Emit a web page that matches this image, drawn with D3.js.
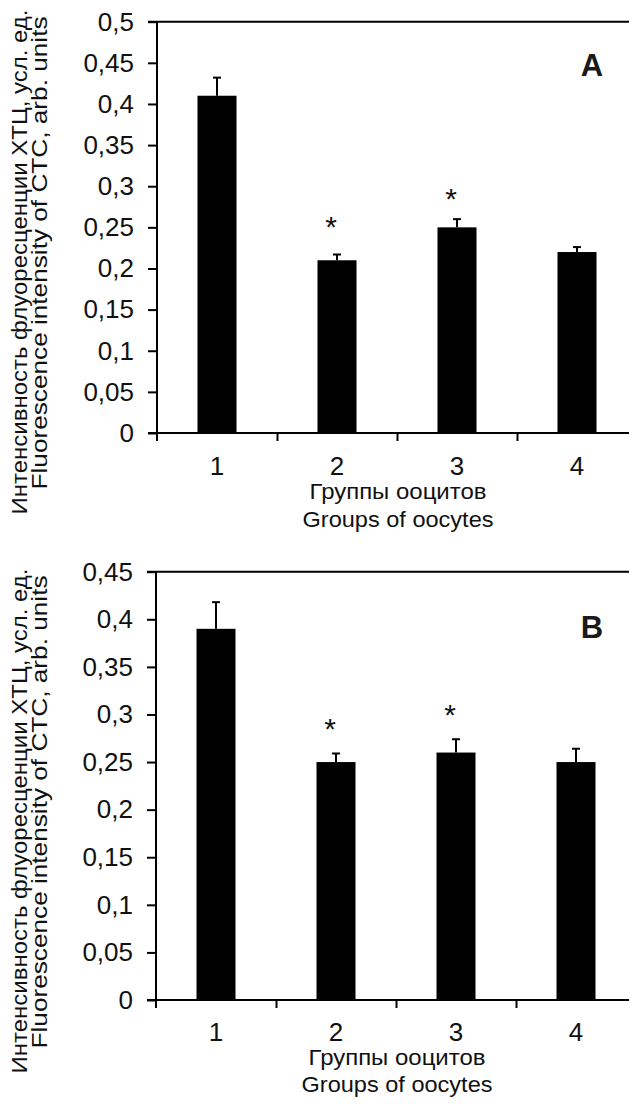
<!DOCTYPE html>
<html>
<head>
<meta charset="utf-8">
<script src="https://cdn.jsdelivr.net/npm/d3@7"></script>
<style>
  html, body { margin: 0; padding: 0; background: #fff; }
  svg { display: block; font-family: "Liberation Sans", Arial, sans-serif; }
</style>
</head>
<body>
<svg id="chart" width="629" height="1104"></svg>
<script>
// ---- data ----
const groups = ["1", "2", "3", "4"];

const meansA = [0.41, 0.21, 0.25, 0.22];
const errorsA = [0.022, 0.007, 0.010, 0.006];
const starGroupsA = ["2", "3"];
const starLevelsA = [0.259, 0.2935];
const yTicksA = [0, 0.05, 0.1, 0.15, 0.2, 0.25, 0.3, 0.35, 0.4, 0.45, 0.5];
const yTickLabelsA = ["0", "0,05", "0,1", "0,15", "0,2", "0,25", "0,3", "0,35", "0,4", "0,45", "0,5"];

const meansB = [0.39, 0.25, 0.26, 0.25];
const errorsB = [0.028, 0.009, 0.014, 0.014];
const starGroupsB = ["2", "3"];
const starLevelsB = [0.292, 0.3065];
const yTicksB = [0, 0.05, 0.1, 0.15, 0.2, 0.25, 0.3, 0.35, 0.4, 0.45];
const yTickLabelsB = ["0", "0,05", "0,1", "0,15", "0,2", "0,25", "0,3", "0,35", "0,4", "0,45"];

const yTitleRu = "Интенсивность флуоресценции ХТЦ, усл. ед.";
const yTitleEn = "Fluorescence intensity of CTC, arb. units";
const xTitleRu = "Группы ооцитов";
const xTitleEn = "Groups of oocytes";

// ---- drawing ----
const svg = d3.select("#chart");
const ink = "#111";
const FONT = "'Liberation Sans', Arial, sans-serif";

function panel(cfg) {
  const g = svg.append("g");
  const x = d3.scaleBand().domain(groups)
    .range([cfg.left, cfg.left + 480])
    .paddingInner(0.675).paddingOuter(0.3375);
  const y = d3.scaleLinear().domain([0, cfg.yMax]).range([cfg.bottom, cfg.top]);

  // bars
  g.selectAll("rect.bar").data(groups).join("rect")
    .attr("x", d => x(d)).attr("width", x.bandwidth())
    .attr("y", (d, i) => y(cfg.means[i]))
    .attr("height", (d, i) => y(0) - y(cfg.means[i]))
    .attr("fill", "#000");

  // error bars
  const eb = g.selectAll("g.err").data(groups).join("g");
  eb.append("line")
    .attr("x1", d => x(d) + x.bandwidth() / 2).attr("x2", d => x(d) + x.bandwidth() / 2)
    .attr("y1", (d, i) => y(cfg.means[i]))
    .attr("y2", (d, i) => y(cfg.means[i] + cfg.errors[i]))
    .attr("stroke", "#000").attr("stroke-width", 2);
  eb.append("line")
    .attr("x1", d => x(d) + x.bandwidth() / 2 - 4).attr("x2", d => x(d) + x.bandwidth() / 2 + 4)
    .attr("y1", (d, i) => y(cfg.means[i] + cfg.errors[i]))
    .attr("y2", (d, i) => y(cfg.means[i] + cfg.errors[i]))
    .attr("stroke", "#000").attr("stroke-width", 2);

  // stars (centred on the level value)
  g.selectAll("text.star").data(cfg.starGroups).join("text")
    .attr("x", d => x(d) + x.bandwidth() / 2 - 6)
    .attr("y", (d, i) => y(cfg.starLevels[i]) + 17)
    .attr("text-anchor", "middle")
    .attr("font-family", FONT)
    .attr("font-size", 30).attr("fill", ink)
    .text("*");

  // y axis
  const yAxis = d3.axisLeft(y).tickValues(cfg.yTicks)
    .tickFormat((d, i) => cfg.yTickLabels[i])
    .tickSize(9).tickPadding(14).tickSizeOuter(0);
  const ya = g.append("g").attr("transform", `translate(${cfg.left},0)`).call(yAxis)
    .attr("font-family", FONT).attr("font-size", 26);
  ya.select(".domain").remove();
  ya.selectAll(".tick line").attr("stroke", "#000").attr("stroke-width", 2);
  ya.selectAll(".tick text").attr("fill", ink);
  // vertical axis line (extends slightly below zero)
  g.append("line").attr("x1", cfg.left).attr("x2", cfg.left)
    .attr("y1", cfg.top).attr("y2", cfg.bottom + 8)
    .attr("stroke", "#000").attr("stroke-width", 2);

  // x axis: ticks at band boundaries
  const xb = d3.scaleLinear().domain([0, groups.length]).range([cfg.left, cfg.left + 480]);
  const xAxisB = d3.axisBottom(xb).tickValues([1, 2, 3]).tickSize(8).tickFormat("").tickSizeOuter(0);
  const xa = g.append("g").attr("transform", `translate(0,${cfg.bottom})`).call(xAxisB);
  xa.select(".domain").remove();
  xa.selectAll(".tick line").attr("stroke", "#000").attr("stroke-width", 2);
  g.append("line").attr("x1", cfg.left - 9).attr("x2", 629)
    .attr("y1", cfg.bottom).attr("y2", cfg.bottom)
    .attr("stroke", "#000").attr("stroke-width", 2);
  // top frame line
  g.append("line").attr("x1", cfg.left - 9).attr("x2", 629)
    .attr("y1", cfg.top).attr("y2", cfg.top)
    .attr("stroke", "#000").attr("stroke-width", 2);

  // x labels via band axis
  const xAxisL = d3.axisBottom(x).tickSize(0).tickPadding(0);
  const xl = g.append("g").attr("transform", `translate(0,${cfg.bottom})`).call(xAxisL)
    .attr("font-family", FONT).attr("font-size", 26);
  xl.select(".domain").remove();
  xl.selectAll(".tick text").attr("y", cfg.labelDy).attr("dy", 0).attr("fill", ink);

  // x title
  const cx = cfg.left + 241;
  g.append("text").attr("x", cx).attr("y", cfg.bottom + cfg.xt1)
    .attr("text-anchor", "middle").attr("font-family", FONT).attr("font-size", 22).attr("fill", ink)
    .attr("textLength", 177).attr("lengthAdjust", "spacingAndGlyphs")
    .text(xTitleRu);
  g.append("text").attr("x", cx).attr("y", cfg.bottom + cfg.xt2)
    .attr("text-anchor", "middle").attr("font-family", FONT).attr("font-size", 22).attr("fill", ink)
    .attr("textLength", 191).attr("lengthAdjust", "spacingAndGlyphs")
    .text(xTitleEn);

  // y title (two rotated lines)
  g.append("text").attr("transform", `translate(27,${cfg.yc1}) rotate(-90)`)
    .attr("text-anchor", "middle").attr("font-family", FONT).attr("font-size", 22).attr("fill", ink)
    .attr("textLength", 505).attr("lengthAdjust", "spacingAndGlyphs")
    .text(yTitleRu);
  g.append("text").attr("transform", `translate(47,${cfg.yc2}) rotate(-90)`)
    .attr("text-anchor", "middle").attr("font-family", FONT).attr("font-size", 22).attr("fill", ink)
    .attr("textLength", 473).attr("lengthAdjust", "spacingAndGlyphs")
    .text(yTitleEn);

  // panel letter
  g.append("text").attr("x", 592).attr("y", cfg.letterY)
    .attr("text-anchor", "middle").attr("font-family", FONT).attr("font-size", 31).attr("font-weight", "bold")
    .attr("fill", "#1a1a1a").text(cfg.letter);
}

panel({
  left: 157, top: 21.7, bottom: 433, yMax: 0.5,
  means: meansA, errors: errorsA, starGroups: starGroupsA, starLevels: starLevelsA,
  yTicks: yTicksA, yTickLabels: yTickLabelsA,
  labelDy: 42, xt1: 66, xt2: 94, yc1: 262, yc2: 253, letter: "A", letterY: 76
});
panel({
  left: 156, top: 571.7, bottom: 1000, yMax: 0.45,
  means: meansB, errors: errorsB, starGroups: starGroupsB, starLevels: starLevelsB,
  yTicks: yTicksB, yTickLabels: yTickLabelsB,
  labelDy: 41, xt1: 65, xt2: 92, yc1: 821, yc2: 812, letter: "B", letterY: 638
});
</script>
</body>
</html>
